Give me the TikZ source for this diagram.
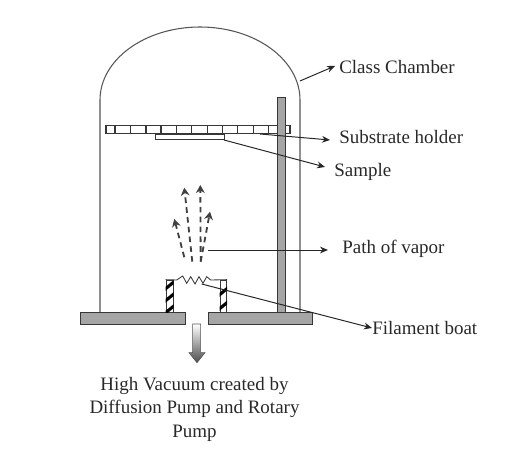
\documentclass[tikz,border=0pt]{standalone}
\usepackage{fontspec}
\setmainfont{Liberation Serif}
\definecolor{lnDark}{RGB}{55,55,55}
\definecolor{lnWall}{RGB}{85,85,85}
\definecolor{fillPlate}{RGB}{165,165,165}
\definecolor{txtDark}{RGB}{40,40,40}
\usetikzlibrary{arrows.meta,positioning,calc}

\begin{document}
\begin{tikzpicture}[
  x=0.25mm,y=-0.25mm,
  wall/.style={draw=lnWall,line width=0.75pt},
  plate/.style={draw=lnDark,line width=0.5pt,fill=fillPlate},
  lbl/.style={font=\fontsize{13.5}{16}\selectfont,text=txtDark,inner sep=0pt,anchor=west},
  arr/.style={-{Stealth[length=2mm,width=1.7mm]},line width=0.7pt,black!85},
  vapor/.style={-{Stealth[length=2mm,width=2.2mm]},line width=1.3pt,dash pattern=on 4pt off 3pt,black!75},
  support/.style={draw=lnDark,line width=0.5pt,fill=white}
]
  \useasboundingbox (0,0) rectangle (508,455);
  % Dome
  \draw[wall] (100,312) -- (100,100) .. controls (100,59.7) and (144.8,27) .. (200,27)
    .. controls (255.2,27) and (300,59.7) .. (300,100) -- (300,312);
  % Holder
  \node[draw=lnDark,line width=1pt,fill=white,minimum width=46mm,minimum height=2mm,inner sep=0pt] (holder) at (198,129.7) {};
  \foreach \cx in {115,130.7,146,161,176.7,191.7,207.3,222.3,237.7,253.3,268.3,283}
    \draw[lnDark,line width=1pt] (\cx,125.7) -- (\cx,133.7);
  \node[draw=lnDark,line width=0.5pt,fill=white,minimum width=17.25mm,minimum height=1.4mm,inner sep=0pt] (sample) at (189.5,136.9) {};
  % Post
  \node[plate,minimum width=2mm,minimum height=53.75mm,inner sep=0pt] (post) at (281,204.5) {};
  % Base
  \node[plate,minimum width=26.25mm,minimum height=3mm,inner sep=0pt] (baseL) at (132.5,318.5) {};
  \node[plate,minimum width=26mm,minimum height=3mm,inner sep=0pt] (baseR) at (260,318.5) {};
  % Boat
  \node[support,minimum width=1.8mm,minimum height=8mm,inner sep=0pt] (supL) at (169.6,296) {};
  \node[support,minimum width=1.7mm,minimum height=8mm,inner sep=0pt] (supR) at (223.3,296) {};
  \foreach \sy in {286,298,310}{
    \begin{scope}
      \clip (supL.south west) rectangle (supL.north east);
      \draw[black,line width=2.2pt] (164,\sy+4) -- (175,\sy-5);
    \end{scope}
  }
  \foreach \sy in {292,306}{
    \begin{scope}
      \clip (supR.south west) rectangle (supR.north east);
      \draw[black,line width=2.2pt] (218,\sy+4) -- (229,\sy-5);
    \end{scope}
  }
  % Filament
  \draw[lnDark,line width=0.6pt] (supL.north west) -- (176.7,280) -- (182.7,276) -- (186.7,283.3) -- (190.7,276.7)
    -- (195,284) -- (199,276.7) -- (203,283.3) -- (206.7,276.7) -- (210.7,280) -- (supR.north east);
  % Vapor
  \draw[vapor] (184.3,257.3) -- (174.3,219);
  \draw[vapor] (192.3,261.7) -- (184.3,187.7);
  \draw[vapor] (200.7,261.7) -- (200.3,185);
  \draw[vapor] (200.7,261.7) -- (210,211.7);
  % Pump arrow
  \shade[top color=white,bottom color=black!70,draw=lnWall,line width=0.4pt]
    (192.7,324) -- (200.7,324) -- (200.7,352.7) -- (205,352.7) -- (197,362.7)
    -- (189,352.7) -- (192.7,352.7) -- cycle;
  % Labels
  \node[lbl] (lblClass) at (339,67) {Class Chamber};
  \node[lbl] (lblHolder) at (339,137) {Substrate holder};
  \node[lbl] (lblSample) at (334,171.5) {Sample};
  \node[lbl] (lblPath) at (342,248.5) {Path of vapor};
  \node[lbl] (lblBoat) at (372,328) {Filament boat};
  \node[font=\fontsize{13.5}{16.7}\selectfont,text=txtDark,align=center,inner sep=0pt] (lblPump) at (194.5,409) {High Vacuum created by\\Diffusion Pump and Rotary\\Pump};
  % Arrows
  \coordinate (fromDome) at (300,81);
  \coordinate (fromHolder) at (260,134);
  \coordinate (fromSample) at (224,140);
  \coordinate (fromVapor) at (208,250);
  \coordinate (fromBoat) at (201.7,284);
  \draw[arr] (fromDome) -- ($(lblClass.west)+(-4,-1)$);
  \draw[arr] (fromHolder) -- ($(lblHolder.west)+(-9,3)$);
  \draw[arr] (fromSample) -- ($(lblSample.west)+(-9,-4.5)$);
  \draw[arr] (fromVapor) -- ($(lblPath.west)+(-14,1.5)$);
  \draw[arr] (fromBoat) -- (lblBoat.west);
\end{tikzpicture}
\end{document}
